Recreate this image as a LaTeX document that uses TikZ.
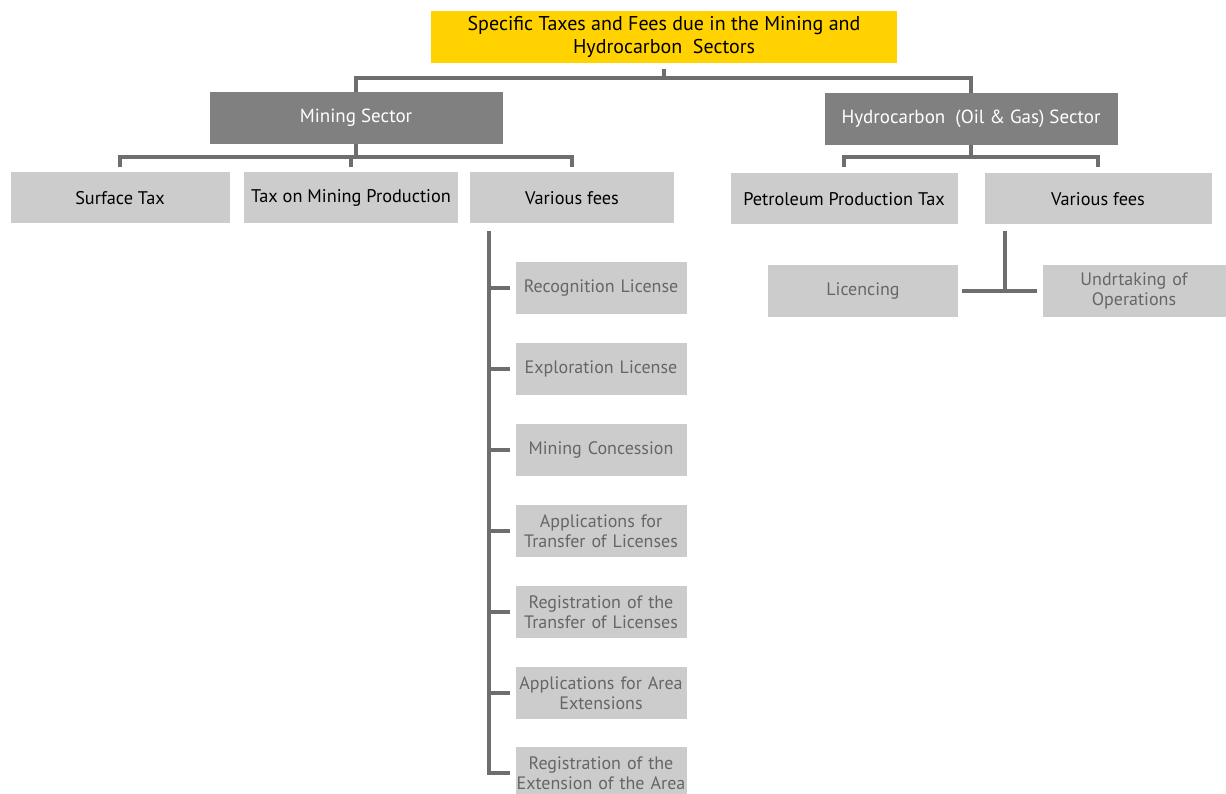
\documentclass[tikz,border=0pt]{standalone}
\usepackage{fontspec}
\setmainfont{PT Sans}
\definecolor{eyyellow}{HTML}{FFD200}
\definecolor{darkbox}{HTML}{808080}
\definecolor{lightbox}{HTML}{CCCCCC}
\definecolor{linegray}{HTML}{6E6E6E}
\definecolor{subtext}{HTML}{666666}
\begin{document}
\begin{tikzpicture}[x=1pt,y=-1pt,
  topbox/.style={fill=eyyellow,inner sep=0pt,align=center,font=\fontsize{20}{23}\selectfont},
  sectorbox/.style={fill=darkbox,text=white,inner sep=0pt,minimum width=293pt,minimum height=52pt,font=\fontsize{19}{22}\selectfont},
  taxbox/.style={fill=lightbox,inner sep=0pt,minimum height=51pt,align=center,font=\fontsize{18.3}{21}\selectfont},
  feebox/.style={fill=lightbox,text=subtext,inner sep=0pt,minimum width=171pt,minimum height=52pt,text width=171pt,align=center,font=\fontsize{18}{20}\selectfont},
  link/.style={draw=linegray,line width=3.8pt}]
\useasboundingbox (0,0) rectangle (1226,794);
% top
\node (top) at (664,37) [topbox,minimum width=466pt,minimum height=52pt] {Specific Taxes and Fees due in the Mining and\\Hydrocarbon\ \ Sectors};
\node (mining) at (356,118) [sectorbox] {Mining Sector};
\node (hydro) at (971,119) [sectorbox] {Hydrocarbon\ \ (Oil \& Gas) Sector};
\coordinate (t1) at (664,78);
\draw[link,shorten <=6pt] (top.south) -- (t1);
\draw[link] (mining.north) |- (t1) -| (hydro.north);
% mining sector
\node (surface) at (120,198) [taxbox,minimum width=219pt] {Surface Tax};
\node (production) at (351,198) [taxbox,minimum width=214pt] {Tax on Mining Production};
\node (fees) at (572,198) [taxbox,minimum width=204pt] {Various fees};
\coordinate (m1) at (356,157);
\draw[link] (mining.south) -- (m1);
\draw[link,shorten <=5pt,shorten >=5pt] (surface.north) |- (m1) -| (fees.north);
\draw[link,shorten <=5pt] (production.north) -- (production.north |- m1);
% various fees (mining)
\node (recog) at (601,288) [feebox] {Recognition License};
\node (explo) at (601,369) [feebox] {Exploration License};
\node (conc) at (601,450) [feebox] {Mining Concession};
\node (apptr) at (601,531) [feebox] {Applications for\\Transfer of Licenses};
\node (regtr) at (601,612) [feebox] {Registration of the\\Transfer of Licenses};
\node (appext) at (601,693) [feebox] {Applications for Area\\Extensions};
\node (regext) at (601,773) [feebox] {Registration of the\\Extension of the Area};
\coordinate (f0) at (489,231);
\coordinate (f1) at (489,773);
\draw[link,shorten >=5pt] (f0) -- (f1) -- (regext.west);
\foreach \n in {recog,explo,conc,apptr,regtr,appext}
  \draw[link,shorten <=5pt] (\n.west) -- (f0 |- \n.west);
% hydrocarbon sector
\node (petrol) at (844,199) [taxbox,minimum width=227pt] {Petroleum Production Tax};
\node (hfees) at (1098,199) [taxbox,minimum width=227pt] {Various fees};
\coordinate (h1) at (971,157);
\draw[link] (hydro.south) -- (h1);
\draw[link,shorten <=6pt,shorten >=6pt] (petrol.north) |- (h1) -| (hfees.north);
% various fees (hydrocarbon)
\node (licence) at (863,291) [feebox,minimum width=190pt,text width=190pt] {Licencing};
\node (undert) at (1134,291) [feebox,minimum width=183pt,text width=183pt] {Undrtaking of\\Operations};
\coordinate (h2) at (1005,231);
\coordinate (h3) at (1005,290);
\draw[link] (h2) -- (h3);
\draw[link,shorten <=4pt,shorten >=5pt] (licence.east) -- (undert.west);
\end{tikzpicture}
\end{document}
